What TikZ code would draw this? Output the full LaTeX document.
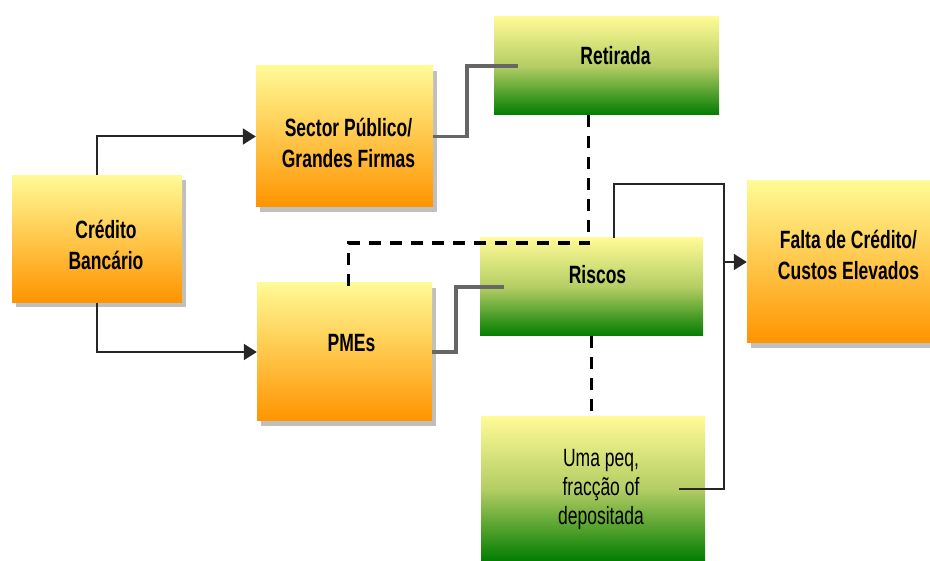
\documentclass[tikz,border=0pt]{standalone}
\usepackage{fontspec}
\setmainfont{Liberation Sans}[FakeStretch=0.7]
\usetikzlibrary{arrows.meta,positioning,shadows}
\definecolor{paleyellow}{RGB}{255,250,150}
\definecolor{creditorange}{RGB}{255,148,0}
\definecolor{riskgreen}{RGB}{0,125,0}
\definecolor{riskmid}{RGB}{180,205,100}

\begin{document}
\begin{tikzpicture}[x=1pt,y=-1pt,
    orangebox/.style={rectangle,inner sep=0pt,top color=paleyellow,bottom color=creditorange,
        drop shadow={shadow xshift=4pt,shadow yshift=-5pt,fill=black!50}},
    greenbox/.style={rectangle,inner sep=0pt,top color=paleyellow,bottom color=riskgreen,middle color=riskmid},
    boxtext/.style={font=\bfseries\fontsize{25}{31}\selectfont,align=center},
    link/.style={line width=2pt,black!85},
    arrowlink/.style={link,-{Triangle[length=13pt,width=16pt]}},
    greyline/.style={line width=3.5pt,black!60},
    riskdash/.style={line width=3.5pt,dash pattern=on 12pt off 9pt}]
    \useasboundingbox (0,0) rectangle (930,561);

    % Orange boxes
    \node (credito) [orangebox,minimum width=170pt,minimum height=127pt,
        label={[name=credito-text,boxtext,xshift=9pt,yshift=-6pt]center:{Crédito\\Bancário}}] at (97,239) {};
    \node (sector) [orangebox,minimum width=177pt,minimum height=141pt,
        label={[name=sector-text,boxtext,xshift=4pt,yshift=-6pt]center:{Sector Público/\\Grandes Firmas}}] at (344.5,136.5) {};
    \node (pmes) [orangebox,minimum width=175pt,minimum height=138pt,
        label={[name=pmes-text,boxtext,xshift=7pt,yshift=9pt]center:PMEs}] at (344.5,352) {};
    \node (falta) [orangebox,minimum width=183pt,minimum height=162pt,
        label={[name=falta-text,boxtext,xshift=10pt,yshift=7pt]center:{Falta de Crédito/\\Custos Elevados}}] at (838.5,262) {};

    % Green boxes
    \node (retirada) [greenbox,minimum width=225pt,minimum height=98pt,
        label={[name=retirada-text,boxtext,xshift=9pt,yshift=10pt]center:Retirada}] at (606.5,66) {};
    \node (riscos) [greenbox,minimum width=223pt,minimum height=98pt,
        label={[name=riscos-text,boxtext,xshift=6pt,yshift=12pt]center:Riscos}] at (591.5,287) {};
    \node (peq) [greenbox,minimum width=224pt,minimum height=144pt,
        label={[name=peq-text,boxtext,font=\fontsize{25}{29}\selectfont,xshift=8pt]center:{Uma peq,\\fracção of\\depositada}}] at (593,489) {};

    % Credit to the two sectors
    \draw[arrowlink] (credito.north) |- (sector.west);
    \draw[arrowlink] (credito.south) |- (pmes.west);

    % Grey links
    \draw[greyline] (sector.east) -- ++(34,0) |- ([xshift=24pt]retirada.west);
    \draw[greyline] (pmes.east) -- ++(24,0) |- ([xshift=24pt]riscos.west);

    % Dashed links
    \draw[riskdash] ([xshift=-18pt]retirada.south) -- ++(0,128) -| ([xshift=4pt,yshift=-12pt]pmes.north);
    \draw[riskdash] (riscos.south) -- (riscos.south |- peq.north);

    % Risks to lack of credit
    \coordinate (railtop) at (724,184);
    \draw[link] ([xshift=22pt]riscos.north) |- (railtop) |- ([xshift=-26pt]peq.east);
    \draw[arrowlink] (railtop |- falta.west) -- (falta.west);
\end{tikzpicture}
\end{document}
